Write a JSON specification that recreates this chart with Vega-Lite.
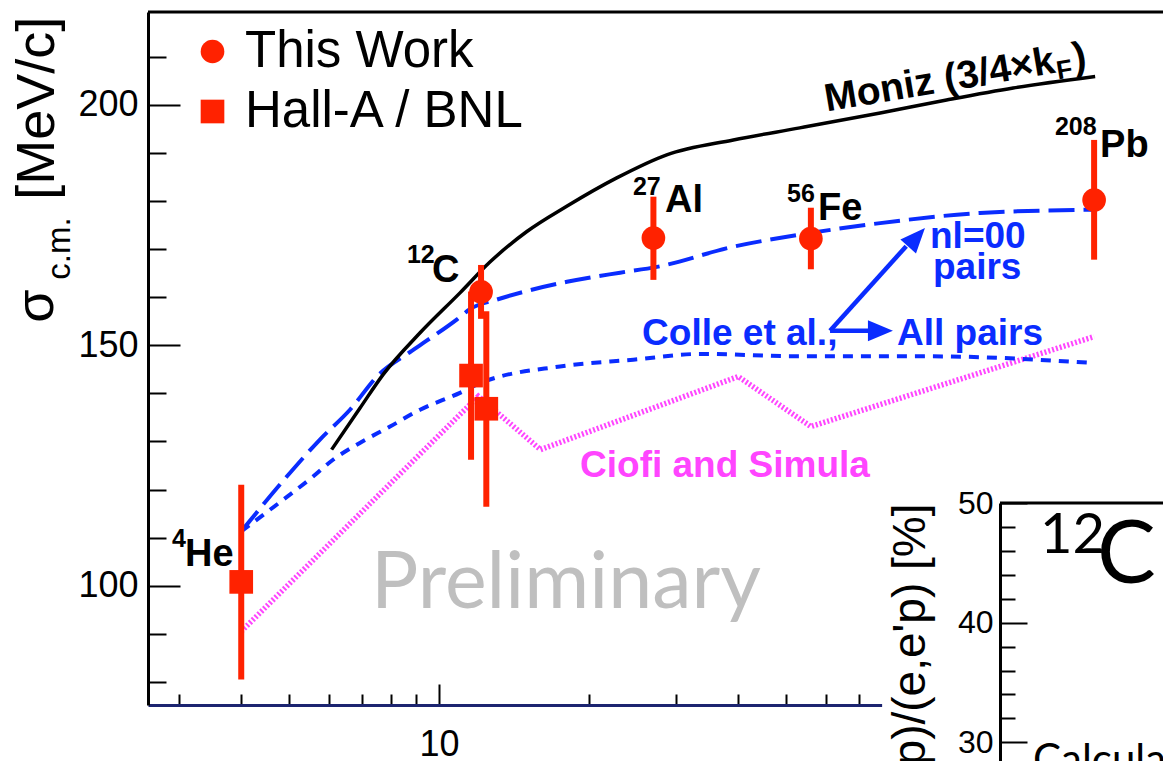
{
  "$schema": "https://vega.github.io/schema/vega-lite/v6.json",
  "width": 1015,
  "height": 693,
  "autosize": {"type": "none"},
  "padding": {"left": 148, "top": 12, "right": 0, "bottom": 56},
  "background": "white",
  "config": {
    "font": "Liberation Sans",
    "view": {"stroke": null},
    "axis": {"labelFont": "Liberation Sans", "titleFont": "Liberation Sans", "labelColor": "black", "titleColor": "black", "grid": false}
  },
  "datasets": {
    "measurements": [
      {"A": 4, "sigma": 100.8, "lo": 80.5, "hi": 121.0, "source": "Hall-A / BNL"},
      {"A": 11.6, "sigma": 143.7, "lo": 126.2, "hi": 161.2, "source": "Hall-A / BNL"},
      {"A": 12.45, "sigma": 136.8, "lo": 116.4, "hi": 157.1, "source": "Hall-A / BNL"},
      {"A": 12.15, "sigma": 161.1, "lo": 155.5, "hi": 166.7, "source": "This Work"},
      {"A": 27, "sigma": 172.3, "lo": 163.6, "hi": 180.9, "source": "This Work"},
      {"A": 56, "sigma": 172.2, "lo": 165.8, "hi": 178.6, "source": "This Work"},
      {"A": 208, "sigma": 180.2, "lo": 167.8, "hi": 192.7, "source": "This Work"}
    ],
    "moniz": [
      {"A": 6.08, "sigma": 128.3}, {"A": 6.93, "sigma": 136.9}, {"A": 7.73, "sigma": 144.0},
      {"A": 9.16, "sigma": 152.6}, {"A": 11.02, "sigma": 160.9}, {"A": 12.66, "sigma": 167.3},
      {"A": 15.0, "sigma": 173.6}, {"A": 18.07, "sigma": 178.9}, {"A": 22.78, "sigma": 184.8},
      {"A": 28.72, "sigma": 189.6}, {"A": 39.1, "sigma": 192.7}, {"A": 53.2, "sigma": 195.2},
      {"A": 77.2, "sigma": 198.3}, {"A": 105, "sigma": 201.0}, {"A": 143, "sigma": 203.5},
      {"A": 209, "sigma": 205.9}
    ],
    "colle_nl00": [
      {"A": 4.0, "sigma": 111.3}, {"A": 4.94, "sigma": 122.7}, {"A": 5.76, "sigma": 130.4},
      {"A": 6.62, "sigma": 136.6}, {"A": 7.55, "sigma": 143.8}, {"A": 8.8, "sigma": 148.8},
      {"A": 9.46, "sigma": 151.0}, {"A": 10.87, "sigma": 155.4}, {"A": 11.54, "sigma": 157.5},
      {"A": 13.07, "sigma": 159.5}, {"A": 15.04, "sigma": 161.3}, {"A": 18.09, "sigma": 163.2},
      {"A": 23.14, "sigma": 165.1}, {"A": 27.45, "sigma": 166.3}, {"A": 39.1, "sigma": 170.5},
      {"A": 53.2, "sigma": 173.0}, {"A": 77.2, "sigma": 175.4}, {"A": 122.6, "sigma": 177.5},
      {"A": 208, "sigma": 178.2}
    ],
    "colle_all": [
      {"A": 4.0, "sigma": 111.3}, {"A": 4.86, "sigma": 117.9}, {"A": 5.58, "sigma": 122.7},
      {"A": 6.12, "sigma": 126.2}, {"A": 6.93, "sigma": 129.7}, {"A": 7.97, "sigma": 133.1},
      {"A": 9.16, "sigma": 136.6}, {"A": 11.02, "sigma": 140.1}, {"A": 12.09, "sigma": 142.1},
      {"A": 17.52, "sigma": 145.6}, {"A": 24.6, "sigma": 147.0}, {"A": 33.5, "sigma": 148.2},
      {"A": 53.2, "sigma": 147.7}, {"A": 97.3, "sigma": 147.7}, {"A": 208, "sigma": 146.3}
    ],
    "ciofi": [
      {"A": 4, "sigma": 90.5}, {"A": 12, "sigma": 139.4}, {"A": 16, "sigma": 128.3},
      {"A": 40, "sigma": 143.5}, {"A": 56, "sigma": 133.1}, {"A": 208, "sigma": 151.8}
    ],
    "nucleus_symbols": [
      {"text": "He", "A": 3.083, "sigma": 104.16},
      {"text": "C", "A": 9.68, "sigma": 163.2},
      {"text": "Al", "A": 28.49, "sigma": 177.75},
      {"text": "Fe", "A": 57.88, "sigma": 176.1},
      {"text": "Pb", "A": 213.8, "sigma": 189.2}
    ],
    "nucleus_masses": [
      {"text": "4", "A": 2.903, "sigma": 108.1},
      {"text": "12", "A": 8.62, "sigma": 167.15},
      {"text": "27", "A": 24.56, "sigma": 181.3},
      {"text": "56", "A": 50.14, "sigma": 179.8},
      {"text": "208", "A": 173.5, "sigma": 193.8}
    ],
    "moniz_label": [{"text": "Moniz (3/4×k", "A": 60.27, "sigma": 198.6}],
    "moniz_label_sub": [{"text": "F", "A": 176.0, "sigma": 205.26}],
    "moniz_label_end": [{"text": ")", "A": 190.4, "sigma": 207.3}],
    "colle_labels": [
      {"text": "Colle et al.,", "A": 25.62, "sigma": 150.1},
      {"text": "All pairs", "A": 83.46, "sigma": 150.1},
      {"text": "nl=00", "A": 97.25, "sigma": 170.27},
      {"text": "pairs", "A": 98.6, "sigma": 163.8}
    ],
    "colle_arrows": [
      {"A": 61.2, "sigma": 153.0, "A2": 87.1, "sigma2": 170.6},
      {"A": 61.2, "sigma": 153.0, "A2": 73.0, "sigma2": 153.0}
    ],
    "arrow_tip_diag": [{"A": 95.0, "sigma": 174.4}],
    "arrow_tip_flat": [{"A": 81.9, "sigma": 153.0}],
    "ciofi_label": [{"text": "Ciofi and Simula", "A": 19.22, "sigma": 122.66}],
    "watermark": [{"text": "Preliminary", "A": 7.3, "sigma": 95.43}],
    "ytitle_big": [
      {"text": "σ", "A": 1.672, "sigma": 154.68},
      {"text": "[MeV/c]", "A": 1.68, "sigma": 180.25}
    ],
    "ytitle_sub": [{"text": "c.m.", "A": 1.809, "sigma": 163.62}],
    "frame": [{}],
    "inset_mass": [{"text": "12", "A": 161.9, "v": 45.83}],
    "inset_symbol": [{"text": "C", "A": 210.9, "v": 43.33}],
    "inset_caption": [{"text": "Calculations", "A": 156.7, "v": 27.33}]
  },
  "layer": [
    {
      "resolve": {"axis": {"x": "independent", "y": "independent"}},
      "layer": [
        {
          "data": {"name": "frame"},
          "mark": {"type": "rule", "color": "black", "strokeWidth": 3},
          "encoding": {
            "y": {"datum": 219.3, "type": "quantitative", "scale": {"domain": [75.2, 219.3], "nice": false, "zero": false}, "axis": null}
          }
        },
        {
          "data": {"name": "ciofi"},
          "mark": {"type": "line", "color": "#ff45ff", "strokeWidth": 5.5, "strokeDash": [2, 2]},
          "encoding": {
            "x": {"field": "A", "type": "quantitative", "scale": {"type": "log", "domain": [2.597, 286.2], "nice": false, "zero": false}, "axis": null},
            "y": {"field": "sigma", "type": "quantitative", "scale": {"domain": [75.2, 219.3], "nice": false, "zero": false}, "axis": null}
          }
        },
        {
          "data": {"name": "colle_all"},
          "mark": {"type": "line", "color": "#0a2cff", "strokeWidth": 4, "strokeDash": [10, 8], "interpolate": "monotone"},
          "encoding": {
            "x": {"field": "A", "type": "quantitative", "scale": {"type": "log", "domain": [2.597, 286.2], "nice": false, "zero": false}, "axis": null},
            "y": {"field": "sigma", "type": "quantitative", "scale": {"domain": [75.2, 219.3], "nice": false, "zero": false}, "axis": null}
          }
        },
        {
          "data": {"name": "colle_nl00"},
          "mark": {"type": "line", "color": "#0a2cff", "strokeWidth": 4, "strokeDash": [26, 9], "interpolate": "monotone"},
          "encoding": {
            "x": {"field": "A", "type": "quantitative", "scale": {"type": "log", "domain": [2.597, 286.2], "nice": false, "zero": false}, "axis": null},
            "y": {"field": "sigma", "type": "quantitative", "scale": {"domain": [75.2, 219.3], "nice": false, "zero": false}, "axis": null}
          }
        },
        {
          "data": {"name": "moniz"},
          "mark": {"type": "line", "color": "black", "strokeWidth": 3.5, "interpolate": "monotone"},
          "encoding": {
            "x": {"field": "A", "type": "quantitative", "scale": {"type": "log", "domain": [2.597, 286.2], "nice": false, "zero": false}, "axis": null},
            "y": {"field": "sigma", "type": "quantitative", "scale": {"domain": [75.2, 219.3], "nice": false, "zero": false}, "axis": null}
          }
        },
        {
          "data": {"name": "measurements"},
          "mark": {"type": "rule", "color": "#ff2200", "strokeWidth": 6},
          "encoding": {
            "x": {
              "field": "A", "type": "quantitative",
              "scale": {"type": "log", "domain": [2.597, 286.2], "nice": false, "zero": false},
              "axis": {
                "orient": "bottom",
                "zindex": 0,
                "values": [3, 4, 5, 6, 7, 8, 9, 20, 30, 40, 50, 60, 70, 80, 90, 200],
                "labels": false,
                "domain": false,
                "tickSize": -11,
                "tickColor": "black",
                "tickWidth": 2,
                "title": null
              }
            },
            "y": {
              "field": "lo", "type": "quantitative",
              "scale": {"domain": [75.2, 219.3], "nice": false, "zero": false},
              "axis": {
                "orient": "left",
                "zindex": 0,
                "values": [80, 90, 110, 120, 130, 140, 160, 170, 180, 190, 210],
                "labels": false,
                "domain": false,
                "tickSize": -18,
                "tickColor": "black",
                "tickWidth": 2,
                "title": null
              }
            },
            "y2": {"field": "hi"}
          }
        },
        {
          "data": {"name": "measurements"},
          "mark": {"type": "point", "filled": true, "opacity": 1, "size": 560, "color": "#ff2200", "strokeWidth": 0},
          "encoding": {
            "x": {
              "field": "A", "type": "quantitative",
              "scale": {"type": "log", "domain": [2.597, 286.2], "nice": false, "zero": false},
              "axis": {
                "orient": "bottom",
                "zindex": 0,
                "values": [10, 100],
                "format": "d",
                "tickSize": -21,
                "labelPadding": 43,
                "labelFontSize": 36,
                "labelFlush": false,
                "labelOverlap": false,
                "labelBound": false,
                "domainColor": "#1c2470",
                "domainWidth": 3,
                "tickColor": "black",
                "tickWidth": 2,
                "title": null
              }
            },
            "y": {
              "field": "sigma", "type": "quantitative",
              "scale": {"domain": [75.2, 219.3], "nice": false, "zero": false},
              "axis": {
                "orient": "left",
                "zindex": 0,
                "values": [100, 150, 200],
                "format": "d",
                "tickSize": -32,
                "labelPadding": 42,
                "labelFontSize": 36,
                "labelOverlap": false,
                "labelBound": false,
                "labelFlush": false,
                "domainColor": "black",
                "domainWidth": 3,
                "tickColor": "black",
                "tickWidth": 2,
                "title": null
              }
            },
            "shape": {
              "field": "source", "type": "nominal",
              "scale": {"domain": ["This Work", "Hall-A / BNL"], "range": ["circle", "square"]},
              "legend": {
                "orient": "none",
                "legendX": 39,
                "legendY": 14,
                "title": null,
                "padding": 0,
                "labelFont": "Liberation Sans",
                "labelFontSize": 51,
                "labelColor": "black",
                "labelLimit": 500,
                "labelOffset": 7,
                "rowPadding": 8,
                "symbolSize": 560,
                "symbolFillColor": "#ff2200",
                "symbolStrokeColor": "#ff2200",
                "symbolStrokeWidth": 0,
                "symbolOpacity": 1
              }
            }
          }
        },
        {
          "data": {"name": "nucleus_symbols"},
          "mark": {"type": "text", "align": "left", "baseline": "alphabetic", "font": "Liberation Sans", "fontWeight": "bold", "fontSize": 38, "color": "black"},
          "encoding": {
            "x": {"field": "A", "type": "quantitative", "scale": {"type": "log", "domain": [2.597, 286.2], "nice": false, "zero": false}, "axis": null},
            "y": {"field": "sigma", "type": "quantitative", "scale": {"domain": [75.2, 219.3], "nice": false, "zero": false}, "axis": null},
            "text": {"field": "text"}
          }
        },
        {
          "data": {"name": "nucleus_masses"},
          "mark": {"type": "text", "align": "left", "baseline": "alphabetic", "font": "Liberation Sans", "fontWeight": "bold", "fontSize": 25, "color": "black"},
          "encoding": {
            "x": {"field": "A", "type": "quantitative", "scale": {"type": "log", "domain": [2.597, 286.2], "nice": false, "zero": false}, "axis": null},
            "y": {"field": "sigma", "type": "quantitative", "scale": {"domain": [75.2, 219.3], "nice": false, "zero": false}, "axis": null},
            "text": {"field": "text"}
          }
        },
        {
          "data": {"name": "moniz_label"},
          "mark": {"type": "text", "align": "left", "baseline": "alphabetic", "font": "Liberation Sans", "fontWeight": "bold", "fontSize": 39, "angle": 350.4, "color": "black"},
          "encoding": {
            "x": {"field": "A", "type": "quantitative", "scale": {"type": "log", "domain": [2.597, 286.2], "nice": false, "zero": false}, "axis": null},
            "y": {"field": "sigma", "type": "quantitative", "scale": {"domain": [75.2, 219.3], "nice": false, "zero": false}, "axis": null},
            "text": {"field": "text"}
          }
        },
        {
          "data": {"name": "moniz_label_sub"},
          "mark": {"type": "text", "align": "left", "baseline": "alphabetic", "font": "Liberation Sans", "fontWeight": "bold", "fontSize": 26, "angle": 350.4, "color": "black"},
          "encoding": {
            "x": {"field": "A", "type": "quantitative", "scale": {"type": "log", "domain": [2.597, 286.2], "nice": false, "zero": false}, "axis": null},
            "y": {"field": "sigma", "type": "quantitative", "scale": {"domain": [75.2, 219.3], "nice": false, "zero": false}, "axis": null},
            "text": {"field": "text"}
          }
        },
        {
          "data": {"name": "moniz_label_end"},
          "mark": {"type": "text", "align": "left", "baseline": "alphabetic", "font": "Liberation Sans", "fontWeight": "bold", "fontSize": 39, "angle": 350.4, "color": "black"},
          "encoding": {
            "x": {"field": "A", "type": "quantitative", "scale": {"type": "log", "domain": [2.597, 286.2], "nice": false, "zero": false}, "axis": null},
            "y": {"field": "sigma", "type": "quantitative", "scale": {"domain": [75.2, 219.3], "nice": false, "zero": false}, "axis": null},
            "text": {"field": "text"}
          }
        },
        {
          "data": {"name": "colle_labels"},
          "mark": {"type": "text", "align": "left", "baseline": "alphabetic", "font": "Liberation Sans", "fontWeight": "bold", "fontSize": 37, "color": "#0a2cff"},
          "encoding": {
            "x": {"field": "A", "type": "quantitative", "scale": {"type": "log", "domain": [2.597, 286.2], "nice": false, "zero": false}, "axis": null},
            "y": {"field": "sigma", "type": "quantitative", "scale": {"domain": [75.2, 219.3], "nice": false, "zero": false}, "axis": null},
            "text": {"field": "text"}
          }
        },
        {
          "data": {"name": "colle_arrows"},
          "mark": {"type": "rule", "color": "#0a2cff", "strokeWidth": 4.5},
          "encoding": {
            "x": {"field": "A", "type": "quantitative", "scale": {"type": "log", "domain": [2.597, 286.2], "nice": false, "zero": false}, "axis": null},
            "y": {"field": "sigma", "type": "quantitative", "scale": {"domain": [75.2, 219.3], "nice": false, "zero": false}, "axis": null},
            "x2": {"field": "A2"},
            "y2": {"field": "sigma2"}
          }
        },
        {
          "data": {"name": "arrow_tip_diag"},
          "mark": {"type": "point", "shape": "M0,0 L-1,-0.42 L-1,0.42 Z", "size": 2500, "angle": -47.9, "filled": true, "opacity": 1, "color": "#0a2cff", "strokeWidth": 0},
          "encoding": {
            "x": {"field": "A", "type": "quantitative", "scale": {"type": "log", "domain": [2.597, 286.2], "nice": false, "zero": false}, "axis": null},
            "y": {"field": "sigma", "type": "quantitative", "scale": {"domain": [75.2, 219.3], "nice": false, "zero": false}, "axis": null}
          }
        },
        {
          "data": {"name": "arrow_tip_flat"},
          "mark": {"type": "point", "shape": "M0,0 L-1,-0.42 L-1,0.42 Z", "size": 2500, "filled": true, "opacity": 1, "color": "#0a2cff", "strokeWidth": 0},
          "encoding": {
            "x": {"field": "A", "type": "quantitative", "scale": {"type": "log", "domain": [2.597, 286.2], "nice": false, "zero": false}, "axis": null},
            "y": {"field": "sigma", "type": "quantitative", "scale": {"domain": [75.2, 219.3], "nice": false, "zero": false}, "axis": null}
          }
        },
        {
          "data": {"name": "ciofi_label"},
          "mark": {"type": "text", "align": "left", "baseline": "alphabetic", "font": "Liberation Sans", "fontWeight": "bold", "fontSize": 37, "color": "#ff45ff"},
          "encoding": {
            "x": {"field": "A", "type": "quantitative", "scale": {"type": "log", "domain": [2.597, 286.2], "nice": false, "zero": false}, "axis": null},
            "y": {"field": "sigma", "type": "quantitative", "scale": {"domain": [75.2, 219.3], "nice": false, "zero": false}, "axis": null},
            "text": {"field": "text"}
          }
        },
        {
          "data": {"name": "watermark"},
          "mark": {"type": "text", "align": "left", "baseline": "alphabetic", "font": "Lato", "fontSize": 79, "color": "#bfbfbf"},
          "encoding": {
            "x": {"field": "A", "type": "quantitative", "scale": {"type": "log", "domain": [2.597, 286.2], "nice": false, "zero": false}, "axis": null},
            "y": {"field": "sigma", "type": "quantitative", "scale": {"domain": [75.2, 219.3], "nice": false, "zero": false}, "axis": null},
            "text": {"field": "text"}
          }
        },
        {
          "data": {"name": "ytitle_big"},
          "mark": {"type": "text", "align": "left", "baseline": "alphabetic", "font": "Liberation Sans", "fontSize": 54, "angle": 270, "color": "black"},
          "encoding": {
            "x": {"field": "A", "type": "quantitative", "scale": {"type": "log", "domain": [2.597, 286.2], "nice": false, "zero": false}, "axis": null},
            "y": {"field": "sigma", "type": "quantitative", "scale": {"domain": [75.2, 219.3], "nice": false, "zero": false}, "axis": null},
            "text": {"field": "text"}
          }
        },
        {
          "data": {"name": "ytitle_sub"},
          "mark": {"type": "text", "align": "left", "baseline": "alphabetic", "font": "Liberation Sans", "fontSize": 33, "angle": 270, "color": "black"},
          "encoding": {
            "x": {"field": "A", "type": "quantitative", "scale": {"type": "log", "domain": [2.597, 286.2], "nice": false, "zero": false}, "axis": null},
            "y": {"field": "sigma", "type": "quantitative", "scale": {"domain": [75.2, 219.3], "nice": false, "zero": false}, "axis": null},
            "text": {"field": "text"}
          }
        }
      ]
    },
    {
      "layer": [
        {
          "data": {"name": "frame"},
          "mark": {"type": "rect", "fill": "white", "stroke": null},
          "encoding": {
            "x": {"datum": 77.9, "type": "quantitative", "scale": {"type": "log", "domain": [2.597, 286.2], "nice": false, "zero": false}, "axis": null},
            "x2": {"datum": 1000},
            "y": {"datum": 51.2, "type": "quantitative", "scale": {"domain": [20, 50], "range": [850, 491], "nice": false, "zero": false}, "axis": null},
            "y2": {"datum": 12}
          }
        },
        {
          "data": {"name": "frame"},
          "mark": {"type": "rule", "color": "black", "strokeWidth": 3},
          "encoding": {
            "x": {"datum": 134.5, "type": "quantitative", "scale": {"type": "log", "domain": [2.597, 286.2], "nice": false, "zero": false}, "axis": null},
            "x2": {"datum": 1000},
            "y": {"datum": 50, "type": "quantitative", "scale": {"domain": [20, 50], "range": [850, 491], "nice": false, "zero": false}, "axis": null}
          }
        },
        {
          "data": {"name": "inset_caption"},
          "mark": {"type": "text", "align": "left", "baseline": "alphabetic", "font": "Lato", "fontSize": 42, "color": "black"},
          "encoding": {
            "x": {"field": "A", "type": "quantitative", "scale": {"type": "log", "domain": [2.597, 286.2], "nice": false, "zero": false}, "axis": null},
            "y": {
              "field": "v", "type": "quantitative",
              "scale": {"domain": [20, 50], "range": [850, 491], "nice": false, "zero": false},
              "axis": {
                "orient": "left",
                "offset": -852,
                "zindex": 1,
                "values": [20, 22, 24, 26, 28, 32, 34, 36, 38, 42, 44, 46, 48],
                "labels": false,
                "domain": false,
                "tickSize": -15,
                "tickColor": "black",
                "tickWidth": 2,
                "title": null
              }
            },
            "text": {"field": "text"}
          }
        },
        {
          "data": {"name": "inset_mass"},
          "mark": {"type": "text", "align": "left", "baseline": "alphabetic", "font": "Lato", "fontSize": 56, "color": "black"},
          "encoding": {
            "x": {"field": "A", "type": "quantitative", "scale": {"type": "log", "domain": [2.597, 286.2], "nice": false, "zero": false}, "axis": null},
            "y": {
              "field": "v", "type": "quantitative",
              "scale": {"domain": [20, 50], "range": [850, 491], "nice": false, "zero": false},
              "axis": {
                "orient": "left",
                "offset": -852,
                "zindex": 1,
                "values": [20, 30, 40, 50],
                "format": "d",
                "tickSize": -27,
                "labelPadding": 34,
                "labelFontSize": 32,
                "labelOverlap": false,
                "labelBound": false,
                "labelFlush": false,
                "domainColor": "black",
                "domainWidth": 3,
                "tickColor": "black",
                "tickWidth": 2,
                "title": "(e,e'pp)/(e,e'p) [%]",
                "titleFontSize": 46,
                "titleFontWeight": "normal",
                "titleAnchor": "end",
                "titlePadding": 23
              }
            },
            "text": {"field": "text"}
          }
        },
        {
          "data": {"name": "inset_symbol"},
          "mark": {"type": "text", "align": "left", "baseline": "alphabetic", "font": "Lato", "fontSize": 88, "color": "black"},
          "encoding": {
            "x": {"field": "A", "type": "quantitative", "scale": {"type": "log", "domain": [2.597, 286.2], "nice": false, "zero": false}, "axis": null},
            "y": {"field": "v", "type": "quantitative", "scale": {"domain": [20, 50], "range": [850, 491], "nice": false, "zero": false}, "axis": null},
            "text": {"field": "text"}
          }
        }
      ],
      "resolve": {"axis": {"y": "independent"}}
    }
  ],
  "resolve": {"scale": {"y": "independent"}, "axis": {"x": "independent", "y": "independent"}}
}
